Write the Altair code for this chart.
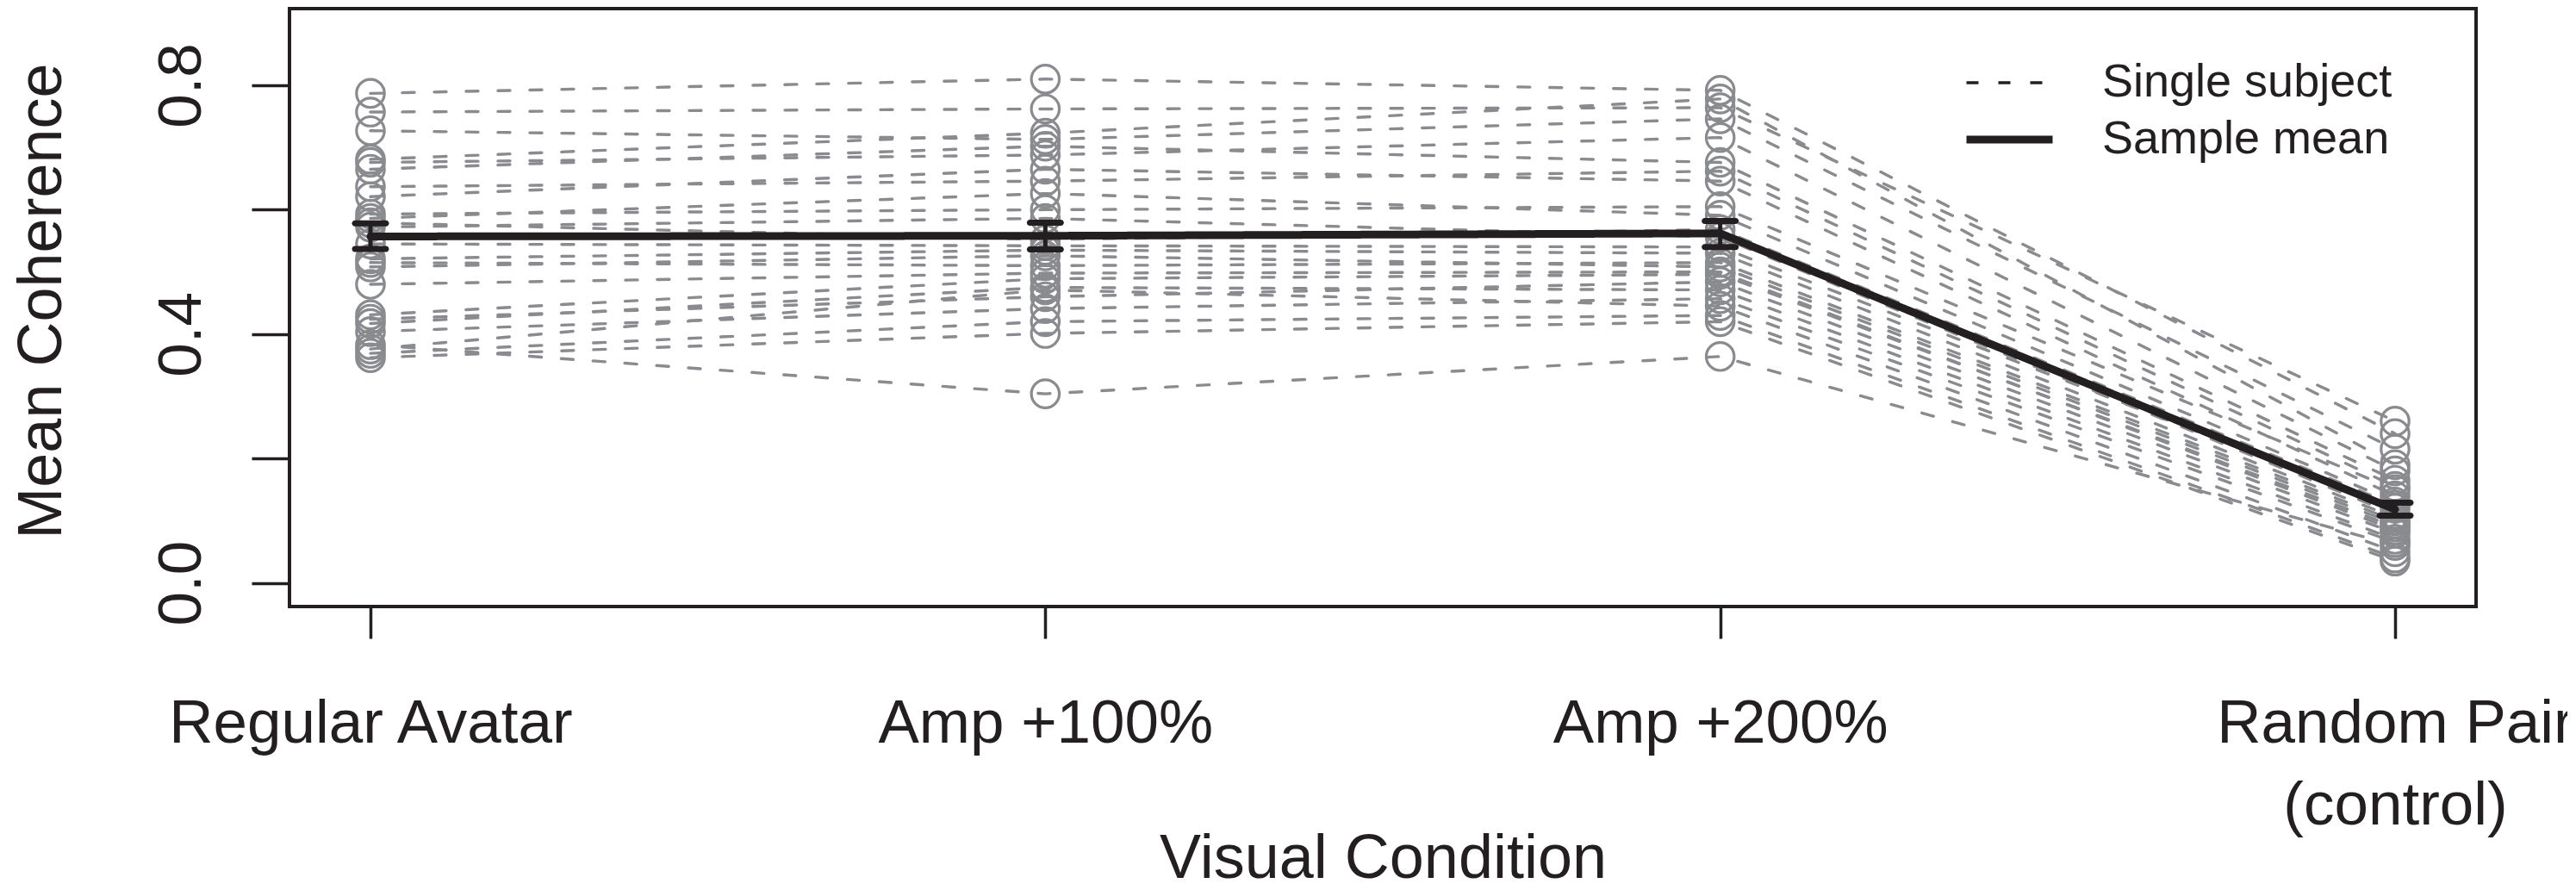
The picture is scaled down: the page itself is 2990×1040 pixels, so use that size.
import json
import altair as alt
import pandas as pd

# ---------------- data ----------------
cond_labels = [["Regular Avatar"], ["Amp +100%"], ["Amp +200%"], ["Random Pair", "(control)"]]
conds = [1, 2, 3, 4]

regular = [0.787, 0.757, 0.727, 0.681, 0.676, 0.665, 0.637, 0.621, 0.593, 0.586,
           0.579, 0.572, 0.545, 0.521, 0.515, 0.508, 0.480, 0.431, 0.424, 0.417,
           0.404, 0.383, 0.376, 0.369, 0.362]
amp100 = [0.810, 0.762, 0.713, 0.723, 0.688, 0.702, 0.646, 0.665, 0.600, 0.626,
          0.552, 0.586, 0.542, 0.535, 0.510, 0.526, 0.498, 0.489, 0.460, 0.475,
          0.441, 0.304, 0.471, 0.420, 0.401]
amp200 = [0.792, 0.764, 0.746, 0.778, 0.716, 0.676, 0.662, 0.646, 0.605, 0.591,
          0.568, 0.556, 0.540, 0.530, 0.515, 0.508, 0.500, 0.496, 0.484, 0.471,
          0.457, 0.364, 0.445, 0.430, 0.420]
random_pair = [0.240, 0.260, 0.215, 0.190, 0.180, 0.165, 0.155, 0.140, 0.150, 0.130,
               0.125, 0.110, 0.120, 0.105, 0.100, 0.095, 0.085, 0.090, 0.080, 0.070,
               0.065, 0.060, 0.050, 0.040, 0.035]

mean_vals = [0.557, 0.558, 0.562, 0.118]
mean_lower = [0.537, 0.536, 0.540, 0.108]
mean_upper = [0.578, 0.579, 0.582, 0.129]

legend_labels = ["Single subject", "Sample mean"]

# ---------------- tables ----------------
rows = []
for i, vals in enumerate(zip(regular, amp100, amp200, random_pair)):
    for c, v in zip(conds, vals):
        rows.append({"subject": i, "cond": c, "value": v, "kind": legend_labels[0]})
subj_df = pd.DataFrame(rows)

mean_df = pd.DataFrame({"cond": conds, "value": mean_vals, "lower": mean_lower,
                        "upper": mean_upper, "kind": legend_labels[1]})

GREY = "#8a8b8f"
BLACK = "#231f20"
FONT = "Liberation Sans"

W, H = 2538, 694

xscale = alt.Scale(domain=[0.88, 4.12], nice=False, zero=False)
yscale = alt.Scale(domain=[-0.038, 0.9233], nice=False, zero=False)

x_axis = alt.Axis(
    values=conds,
    labelExpr=json.dumps(cond_labels) + "[datum.value - 1]",
    title="Visual Condition",
    tickSize=37,
    labelPadding=99,
    labelBaseline="middle",
    labelLineHeight=95,
    labelAngle=0,
    labelLimit=2000,
    labelOverlap=False,
    labelFlush=False,
    titleBaseline="alphabetic",
    titleX=W / 2,
    titleY=314,
    titleAlign="center",
    titleLimit=3000,
)
y_axis = alt.Axis(
    values=[0, 0.2, 0.4, 0.6, 0.8],
    labelExpr="(abs(datum.value) < 0.001 || abs(datum.value - 0.4) < 0.001 || abs(datum.value - 0.8) < 0.001) ? format(datum.value, '.1f') : ''",
    title="Mean Coherence",
    tickSize=44,
    labelPadding=60,
    labelAngle=-90,
    labelAlign="center",
    labelBaseline="alphabetic",
    labelLimit=2000,
    labelOverlap=False,
    labelFlush=False,
    titleAngle=-90,
    titleBaseline="alphabetic",
    titleAlign="center",
    titleX=-266,
    titleY=339,
    titleLimit=3000,
)

dash_scale = alt.Scale(domain=legend_labels, range=[[14, 23], [1, 0]])
width_scale = alt.Scale(domain=legend_labels, range=[3.4, 9], padding=0)
legend = alt.Legend(
    title=None,
    orient="none",
    legendX=1942,
    legendY=53,
    symbolType="stroke",
    symbolSize=10000,
    symbolStrokeColor=BLACK,
    labelFontSize=54,
    labelFont=FONT,
    labelColor=BLACK,
    labelLimit=1000,
    labelOffset=53,
    rowPadding=0,
    clipHeight=66,
    padding=0,
)

subj_lines = alt.Chart(subj_df).mark_line(
    color=GREY, strokeCap="round"
).encode(
    x=alt.X("cond:Q", scale=xscale, axis=x_axis),
    y=alt.Y("value:Q", scale=yscale, axis=y_axis),
    detail="subject:N",
    strokeDash=alt.StrokeDash("kind:N", scale=dash_scale, legend=legend),
    strokeWidth=alt.StrokeWidth("kind:N", scale=width_scale, legend=legend),
    order="cond:Q",
)

subj_points = alt.Chart(subj_df).mark_point(
    shape="circle", filled=False, size=1050, strokeWidth=3.2, color=GREY, opacity=1
).encode(
    x=alt.X("cond:Q", scale=xscale),
    y=alt.Y("value:Q", scale=yscale),
)

mean_line = alt.Chart(mean_df).mark_line(
    color=BLACK, strokeCap="round", strokeJoin="round"
).encode(
    x=alt.X("cond:Q", scale=xscale),
    y=alt.Y("value:Q", scale=yscale),
    strokeDash=alt.StrokeDash("kind:N", scale=dash_scale, legend=legend),
    strokeWidth=alt.StrokeWidth("kind:N", scale=width_scale, legend=legend),
    order="cond:Q",
)

err_rule = alt.Chart(mean_df).mark_rule(color=BLACK, strokeWidth=5).encode(
    x=alt.X("cond:Q", scale=xscale),
    y=alt.Y("lower:Q", scale=yscale),
    y2="upper:Q",
)

err_caps = alt.Chart(mean_df).transform_fold(
    ["lower", "upper"], as_=["which", "bound"]
).mark_tick(
    color=BLACK, orient="horizontal", size=43, thickness=7, cornerRadius=3.5, opacity=1
).encode(
    x=alt.X("cond:Q", scale=xscale),
    y=alt.Y("bound:Q", scale=yscale),
)

chart = alt.layer(subj_lines, subj_points, mean_line, err_rule, err_caps).properties(
    width=W,
    height=H,
    autosize=alt.AutoSizeParams(type="none"),
    padding={"left": 328, "top": 2, "right": 106, "bottom": 328},
    background="white",
).configure_view(
    stroke=BLACK, strokeWidth=4
).configure_axis(
    domain=False,
    grid=False,
    tickColor=BLACK,
    tickWidth=3.5,
    labelFont=FONT,
    labelFontSize=71,
    labelColor=BLACK,
    titleFont=FONT,
    titleFontSize=72,
    titleFontWeight="normal",
    titleColor=BLACK,
)

chart.save("out.html", embed_options={"renderer": "svg", "actions": False})
